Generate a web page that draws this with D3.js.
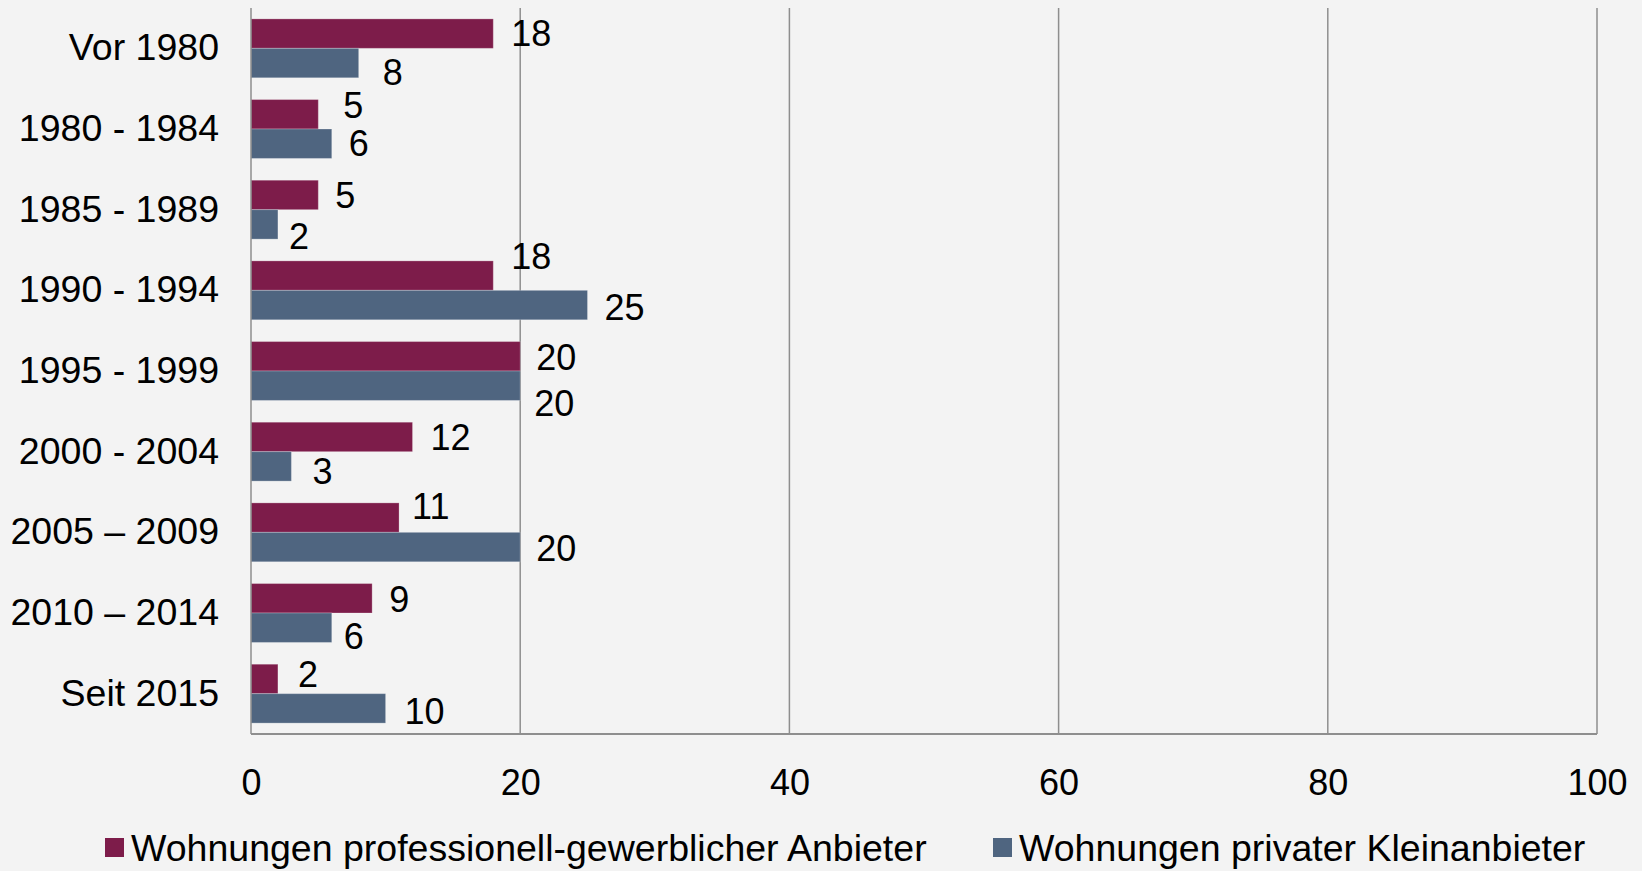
<!DOCTYPE html>
<html>
<head>
<meta charset="utf-8">
<script src="https://cdn.jsdelivr.net/npm/d3@7"></script>
<style>
  html, body { margin: 0; padding: 0; background: #F3F3F3; }
  svg { display: block; }
  text { font-family: "Liberation Sans", Arial, sans-serif; fill: #000; }
</style>
</head>
<body>
<svg id="chart" width="1642" height="871"></svg>
<script>
// ---- data ----
const categories = ["Vor 1980", "1980 - 1984", "1985 - 1989", "1990 - 1994", "1995 - 1999",
                    "2000 - 2004", "2005 \u2013 2009", "2010 \u2013 2014", "Seit 2015"];
const seriesNames = ["Wohnungen professionell-gewerblicher Anbieter", "Wohnungen privater Kleinanbieter"];
const professionell = [18, 5, 5, 18, 20, 12, 11, 9, 2];
const privat = [8, 6, 2, 25, 20, 3, 20, 6, 10];
const xTicks = [0, 20, 40, 60, 80, 100];
// manual label nudges (as in the original chart), [dx, dy]
const nudgeProf = [[1,0],[8,-9],[0,0],[1,-19],[-1,1],[1,0],[-4,-11],[0,1],[3,-5]];
const nudgePriv = [[7,9],[0,0],[-6,12],[0,2],[-3,18],[4,5],[-1,1],[-5,9],[2,3]];

const colors = ["#7D1C4A", "#4F6580"];

const margin = {left: 251, top: 8, right: 45, bottom: 137};
const W = 1642, H = 871;
const innerW = W - margin.left - margin.right;
const innerH = H - margin.top - margin.bottom;

const svg = d3.select("#chart");
svg.append("rect").attr("width", W).attr("height", H).attr("fill", "#F3F3F3");
const g = svg.append("g").attr("transform", `translate(${margin.left},${margin.top})`);

const x = d3.scaleLinear().domain([0, 100]).range([0, innerW]);
const y = d3.scaleBand().domain(categories).range([0, innerH]).paddingInner(0.27).paddingOuter(0.135);
const ySub = d3.scaleBand().domain([0, 1]).range([0, y.bandwidth()]);

// gridlines
g.append("g").selectAll("line").data(xTicks.filter(d => d > 0)).join("line")
  .attr("x1", d => x(d)).attr("x2", d => x(d))
  .attr("y1", 0).attr("y2", innerH)
  .attr("stroke", "#8E8E8E").attr("stroke-width", 1.5);

// bars
const series = [professionell, privat];
const nudges = [nudgeProf, nudgePriv];
series.forEach((vals, si) => {
  g.append("g").selectAll("rect").data(vals).join("rect")
    .attr("x", x(0))
    .attr("y", (d, i) => y(categories[i]) + ySub(si))
    .attr("width", d => x(d) - x(0))
    .attr("height", ySub.bandwidth())
    .attr("fill", colors[si])
    .attr("stroke", "rgba(255,255,255,0.25)").attr("stroke-width", 1);
  g.append("g").selectAll("text").data(vals).join("text")
    .attr("x", (d, i) => x(d) + 17 + nudges[si][i][0])
    .attr("y", (d, i) => y(categories[i]) + ySub(si) + ySub.bandwidth() / 2 + nudges[si][i][1])
    .attr("dy", "0.35em")
    .attr("font-size", 36)
    .text(d => d);
});

// axis lines
g.append("line").attr("x1", 0).attr("x2", 0).attr("y1", 0).attr("y2", innerH)
  .attr("stroke", "#8E8E8E").attr("stroke-width", 1.5);
g.append("line").attr("x1", 0).attr("x2", innerW).attr("y1", innerH).attr("y2", innerH)
  .attr("stroke", "#8E8E8E").attr("stroke-width", 2);

// x axis labels
const xAxis = d3.axisBottom(x).tickValues(xTicks).tickSize(0).tickPadding(35);
const xg = g.append("g").attr("transform", `translate(0,${innerH})`).call(xAxis);
xg.select(".domain").remove();
xg.selectAll("text").attr("font-size", 36).attr("font-family", "Liberation Sans, Arial, sans-serif").attr("fill", "#000");

// y axis labels
const yAxis = d3.axisLeft(y).tickSize(0).tickPadding(32);
const yg = g.append("g").call(yAxis);
yg.select(".domain").remove();
yg.selectAll("text").attr("font-size", 37.5).attr("dy", "0.32em").attr("font-family", "Liberation Sans, Arial, sans-serif").attr("fill", "#000");

// legend
const legendX = [105, 993];
const legend = svg.append("g");
seriesNames.forEach((name, i) => {
  legend.append("rect").attr("x", legendX[i]).attr("y", 838).attr("width", 19).attr("height", 19)
    .attr("fill", colors[i]);
  legend.append("text").attr("x", legendX[i] + 26).attr("y", 848).attr("dy", "0.35em")
    .attr("font-size", 37.5).text(name);
});
</script>
</body>
</html>
